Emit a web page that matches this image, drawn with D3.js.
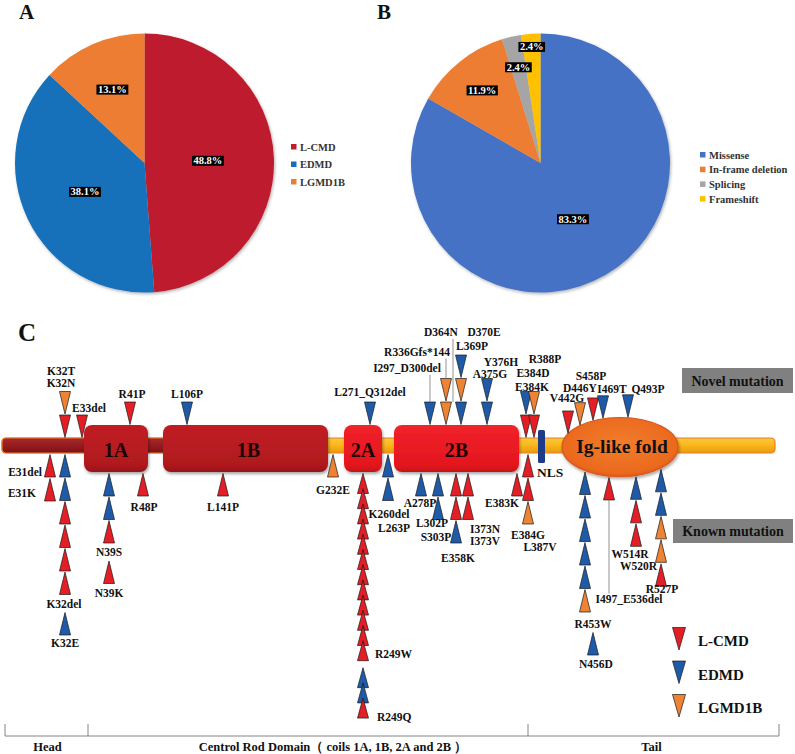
<!DOCTYPE html>
<html>
<head>
<meta charset="utf-8">
<script src="https://cdn.jsdelivr.net/npm/d3@7"></script>
<style>
  body { margin: 0; background: #fff; }
  svg { display: block; }
  text { font-family: "Liberation Serif", "Times New Roman", serif; font-weight: bold; }
</style>
</head>
<body>
<svg id="chart" width="795" height="754"></svg>
<script>
// ---------- data ----------
const pieACategories = ["L-CMD", "EDMD", "LGMD1B"];
const pieAValues = [48.8, 38.1, 13.1];

const pieBCategories = ["Missense", "In-frame deletion", "Splicing", "Frameshift"];
const pieBValues = [83.3, 11.9, 2.4, 2.4];

const diseaseNames = ["L-CMD", "EDMD", "LGMD1B"];
const diseaseCode = { L: "L-CMD", E: "EDMD", G: "LGMD1B" };

const domainNames = ["1A", "1B", "2A", "2B"];
const domainStart = [34, 81, 243, 281];
const domainEnd = [70, 218, 270, 383];
const nlsRange = [417, 422];
const igFoldRange = [428, 549];
const proteinLength = 664;

const regionNames = ["Head", "Centrol Rod Domain（ coils 1A, 1B, 2A and 2B ）", "Tail"];
const regionStart = [1, 34, 384];
const regionEnd = [33, 383, 664];

// novel mutations (above the protein); cases listed from the protein outwards
const novelResidue = [32, 33, 41, 106, 271, 297, 336, 369, 375, 384, 388, 442, 446, 458, 469, 493];
const novelCases = ["LG", "L", "L", "E", "E", "E", "GG", "EGE", "EE", "LE", "LG", "L", "G", "L", "E", "E"];
const novelLabels = [["K32T", "K32N"], ["E33del"], ["R41P"], ["L106P"], ["L271_Q312del"], ["I297_D300del"],
  ["R336Gfs*144"], ["D364N", "D370E", "L369P"], ["Y376H", "A375G"], [], ["R388P", "E384D", "E384K"],
  ["V442G"], ["D446Y"], ["S458P"], ["I469T"], ["Q493P"]];

// known mutations (below the protein)
const knownResidue = [31, 31, 32, 32, 39, 39, 48, 141, 232, 249, 249, 260, 278, 302, 358, 373, 383, 384, 453, 456, 497, 514, 520, 527];
const knownCases = ["L", "L", "EELLLL", "E", "EEL", "L", "L", "L", "G", "LLLLLLLLLLLL", "EEL", "EE", "E", "EE",
  "LLE", "LL", "L", "LLG", "EEEEEG", "E", "L", "ELL", "EEGG", "L"];
const knownLabels = [["E31del"], ["E31K"], ["K32del"], ["K32E"], ["N39S"], ["N39K"], ["R48P"], ["L141P"], ["G232E"],
  ["R249W"], ["R249Q"], ["K260del", "L263P"], ["A278P"], ["L302P", "S303P"], ["E358K"], ["I373N", "I373V"],
  ["E383K"], ["E384G", "L387V"], ["R453W"], ["N456D"], ["I497_E536del"], ["W514R"], ["W520R"], ["R527P"]];

// ---------- setup ----------
const svg = d3.select("#chart");
svg.append("rect").attr("width", 795).attr("height", 754).attr("fill", "#fff");
const defs = svg.append("defs");

const pieShadow = defs.append("filter").attr("id", "pieShadow")
  .attr("x", "-10%").attr("y", "-10%").attr("width", "125%").attr("height", "125%");
pieShadow.append("feDropShadow").attr("dx", 1).attr("dy", 1.5).attr("stdDeviation", 1.5)
  .attr("flood-color", "#000").attr("flood-opacity", 0.3);

const boxShadow = defs.append("filter").attr("id", "boxShadow")
  .attr("x", "-10%").attr("y", "-10%").attr("width", "125%").attr("height", "130%");
boxShadow.append("feDropShadow").attr("dx", 1).attr("dy", 2).attr("stdDeviation", 1.5)
  .attr("flood-color", "#000").attr("flood-opacity", 0.35);

function vGradient(id, stops) {
  const g = defs.append("linearGradient").attr("id", id)
    .attr("x1", 0).attr("y1", 0).attr("x2", 0).attr("y2", 1);
  stops.forEach(([o, c]) => g.append("stop").attr("offset", o).attr("stop-color", c));
}
vGradient("rodYellow", [[0, "#f7c846"], [0.45, "#fbb81a"], [1, "#e69a12"]]);
vGradient("rodRed", [[0, "#a8282c"], [0.5, "#951c20"], [1, "#7b1216"]]);
vGradient("coil1", [[0, "#c01f24"], [0.85, "#b0191e"], [1, "#931318"]]);
vGradient("coil2", [[0, "#f0222a"], [0.85, "#e4161e"], [1, "#c31118"]]);
const rg = defs.append("radialGradient").attr("id", "igFill").attr("cx", "50%").attr("cy", "45%").attr("r", "60%");
rg.append("stop").attr("offset", 0).attr("stop-color", "#f27d2c");
rg.append("stop").attr("offset", 0.8).attr("stop-color", "#eb6a1e");
rg.append("stop").attr("offset", 1).attr("stop-color", "#d9561a");

// ---------- panels A and B ----------
function drawPie(cx, cy, r, cats, vals, colors, labelR, legendX, legendY, legendStep) {
  const color = d3.scaleOrdinal().domain(cats).range(colors);
  const arcs = d3.pie().sort(null).value(d => d)(vals);
  const arc = d3.arc().innerRadius(0).outerRadius(r);
  const g = svg.append("g").attr("transform", `translate(${cx},${cy})`);
  g.append("g").attr("filter", "url(#pieShadow)")
    .selectAll("path").data(arcs).join("path")
    .attr("d", arc)
    .attr("fill", (d, i) => color(cats[i]));

  arcs.forEach((d, i) => {
    const a = (d.startAngle + d.endAngle) / 2;
    const rr = r * labelR[i];
    const lg = g.append("g");
    const t = lg.append("text")
      .attr("x", rr * Math.sin(a)).attr("y", -rr * Math.cos(a))
      .attr("dy", "0.35em").attr("text-anchor", "middle")
      .attr("font-size", 10.5).attr("fill", "#fff")
      .text(vals[i].toFixed(1) + "%");
    const bb = t.node().getBBox();
    lg.insert("rect", "text")
      .attr("x", bb.x - 1.5).attr("y", bb.y + 0.5)
      .attr("width", bb.width + 3).attr("height", bb.height - 1)
      .attr("fill", "#000");
  });

  const leg = svg.append("g");
  cats.forEach((c, i) => {
    const y = legendY + i * legendStep;
    leg.append("rect").attr("x", legendX).attr("y", y - 3).attr("width", 5.5).attr("height", 5.5)
      .attr("fill", color(c));
    leg.append("text").attr("x", legendX + 9).attr("y", y + 3.5)
      .attr("font-size", 10.5).attr("fill", "#333").text(c);
  });
}

drawPie(144.5, 163, 129.5, pieACategories, pieAValues, ["#be1e2d", "#1570ba", "#ed7d31"],
  [0.49, 0.51, 0.62], 291, 147, 17.5);
drawPie(540.5, 163, 129.5, pieBCategories, pieBValues, ["#4472c4", "#ed7d31", "#a5a5a5", "#ffc000"],
  [0.5, 0.72, 0.76, 0.9], 700, 155, 14.7);

svg.append("text").attr("x", 19).attr("y", 19).attr("font-size", 21).attr("fill", "#111").text("A");
svg.append("text").attr("x", 377).attr("y", 19).attr("font-size", 21).attr("fill", "#111").text("B");
svg.append("text").attr("x", 18).attr("y", 341).attr("font-size", 25).attr("fill", "#111").text("C");

// ---------- panel C: protein schematic ----------
// schematic (not-to-scale) position scales: structure, novel track, known track
const xStruct = d3.scaleLinear()
  .domain([1, 34, 70, 81, 218, 243, 270, 281, 383, 384, 417, 422, 428, 549, 664])
  .range([2, 84, 148, 163, 328, 344, 382, 394, 519, 524, 538, 545, 562, 678, 775]);
const xNovel = d3.scaleLinear()
  .domain([1, 32, 33, 41, 106, 271, 297, 336, 369, 375, 384, 388, 442, 446, 458, 469, 493, 664])
  .range([5, 65, 82, 130, 187, 370, 430, 446, 461, 487, 526, 534, 568, 580, 593, 603, 628, 772]);
const xKnown = d3.scaleLinear()
  .domain([1, 31, 32, 39, 48, 141, 232, 249, 260, 278, 302, 358, 373, 383, 384, 453, 456, 497, 514, 520, 527, 664])
  .range([5, 50, 65, 109, 143, 223, 333, 363, 388, 421, 438, 456, 468, 517, 528, 585, 593, 609, 636, 661, 661, 772]);

const ROD_TOP = 438, ROD_BOTTOM = 453, BOX_TOP = 425, BOX_BOTTOM = 472;
const IG = {
  cx: (xStruct(igFoldRange[0]) + xStruct(igFoldRange[1])) / 2,
  rx: (xStruct(igFoldRange[1]) - xStruct(igFoldRange[0])) / 2,
  cy: 447, ry: 29.5
};

const pc = svg.append("g");
// rod
pc.append("rect").attr("x", xStruct(1)).attr("y", ROD_TOP)
  .attr("width", xStruct(proteinLength) - xStruct(1)).attr("height", ROD_BOTTOM - ROD_TOP)
  .attr("rx", 4).attr("fill", "url(#rodYellow)").attr("stroke", "#ef7d22").attr("stroke-width", 1.2);
pc.append("rect").attr("x", xStruct(1)).attr("y", ROD_TOP)
  .attr("width", xStruct(domainStart[1] + 10) - xStruct(1)).attr("height", ROD_BOTTOM - ROD_TOP)
  .attr("rx", 4).attr("fill", "url(#rodRed)").attr("stroke", "#ef7d22").attr("stroke-width", 1.2);

// coils
const coilFill = d3.scaleOrdinal().domain(domainNames).range(["url(#coil1)", "url(#coil1)", "url(#coil2)", "url(#coil2)"]);
domainNames.forEach((name, i) => {
  const x0 = xStruct(domainStart[i]), x1 = xStruct(domainEnd[i]);
  pc.append("rect").attr("x", x0).attr("y", BOX_TOP).attr("width", x1 - x0).attr("height", BOX_BOTTOM - BOX_TOP)
    .attr("rx", 8).attr("fill", coilFill(name)).attr("filter", "url(#boxShadow)");
  pc.append("text").attr("x", (x0 + x1) / 2 + (i === 1 ? 3 : 0)).attr("y", 457)
    .attr("text-anchor", "middle").attr("font-size", 20).attr("fill", "#1a0505").text(name);
});

// NLS
pc.append("rect").attr("x", xStruct(nlsRange[0])).attr("y", 430)
  .attr("width", xStruct(nlsRange[1]) - xStruct(nlsRange[0])).attr("height", 33)
  .attr("rx", 1.5).attr("fill", "#1f3a88");
pc.append("text").attr("x", xStruct(nlsRange[0]) - 1).attr("y", 477)
  .attr("font-size", 13.5).attr("fill", "#111").text("NLS");

// Ig-like fold
pc.append("ellipse").attr("cx", IG.cx).attr("cy", IG.cy).attr("rx", IG.rx).attr("ry", IG.ry)
  .attr("fill", "url(#igFill)").attr("stroke", "#d9561a").attr("stroke-width", 1.2)
  .attr("filter", "url(#boxShadow)");
pc.append("text").attr("x", IG.cx + 2).attr("y", 453).attr("text-anchor", "middle")
  .attr("font-size", 19.5).attr("fill", "#111").text("Ig-like fold");

// structure outline used to seat the triangles
function structEdge(x, side) {
  const ex = (x - IG.cx) / IG.rx;
  if (Math.abs(ex) < 1) return IG.cy + side * IG.ry * Math.sqrt(1 - ex * ex);
  for (let i = 0; i < domainNames.length; i++) {
    if (x >= xStruct(domainStart[i]) && x <= xStruct(domainEnd[i])) return side < 0 ? BOX_TOP : BOX_BOTTOM;
  }
  return side < 0 ? ROD_TOP : ROD_BOTTOM;
}

const triColor = d3.scaleOrdinal().domain(diseaseNames).range(["#e31e25", "#1f5aa8", "#ee8333"]);
function triPath(x, tip, dir, w, h) {
  // dir = -1: points down (tip at bottom), dir = +1: points up
  return `M${x},${tip}L${x - w / 2},${tip + dir * h}L${x + w / 2},${tip + dir * h}Z`;
}
const TRI_W = 11, TRI_H = 22.5, STEP = 23.5;
const LABEL_SIZE = 11.5;

// label placement: [dx, dy, anchor] relative to the column x and the stack end
const novelLabelPos = {
  "K32T": [-4, -17], "K32N": [-4, -5], "E33del": [7, -3], "R41P": [2, -4], "L106P": [0, -4],
  "L271_Q312del": [0, -6], "I297_D300del": [-23, -30], "R336Gfs*144": [-29, -23],
  "D364N": [-20, -19], "D370E": [23, -19], "L369P": [11, -5],
  "Y376H": [14, -13], "A375G": [3, -1],
  "R388P": [11, -29], "E384D": [-1, -15], "E384K": [-2, -1],
  "V442G": [-1, -9], "D446Y": [0, -11], "S458P": [-2, -18], "I469T": [9, -3], "Q493P": [20, -2]
};
const novelLeaders = { "I297_D300del": [0, 0], "R336Gfs*144": [0, 1], "D364N": [-8, 0] };

const knownLabelPos = {
  "E31del": [-8, -1.5, "end"], "E31K": [-14, -4.5, "end"], "K32del": [-1, 13], "K32E": [0, 12],
  "N39S": [0, 13], "N39K": [0, 13], "R48P": [1, 15], "L141P": [0, 15], "G232E": [0, 17],
  "R249W": [12, -2.5, "start"], "R249Q": [14, 2.5, "start"],
  "K260del": [1, 17], "L263P": [6, 31], "A278P": [-1, 10.5], "L302P": [-6, 7], "S303P": [-2, 21],
  "E358K": [2, 18.5], "I373N": [17, 13], "I373V": [17, 25], "E383K": [-15, 10.5],
  "E384G": [0, 14.5], "L387V": [12, 26.5], "R453W": [8, 15.5], "N456D": [3, 12.5],
  "I497_E536del": [20, 103.5], "W514R": [-6, 11.5], "W520R": [-4, 8, "end"], "R527P": [1, 7]
};
const knownGap = { "R249Q": 5.5 };
const compactStack = { 249: { step: 15.2, h: 20 } };

const gMut = svg.append("g");
const gLab = svg.append("g");

// novel mutations
novelResidue.forEach((res, i) => {
  const x = xNovel(res);
  const tip0 = structEdge(x, -1) - 0.5;
  const cases = novelCases[i].split("");
  cases.forEach((c, k) => {
    gMut.append("path").attr("d", triPath(x, tip0 - k * STEP, -1, TRI_W, TRI_H))
      .attr("fill", triColor(diseaseCode[c])).attr("stroke", "#1a1a1a").attr("stroke-width", 0.7);
  });
  const top = tip0 - (cases.length - 1) * STEP - TRI_H;
  novelLabels[i].forEach((lab, j) => {
    const p = novelLabelPos[lab] || [0, -4 - 12 * (novelLabels[i].length - 1 - j)];
    const ly = top + p[1];
    gLab.append("text").attr("x", x + p[0]).attr("y", ly).attr("text-anchor", p[2] || "middle")
      .attr("font-size", LABEL_SIZE).attr("fill", "#111").text(lab);
    if (novelLeaders[lab]) {
      const [ldx, lvl] = novelLeaders[lab];
      gLab.append("line").attr("x1", x + ldx).attr("x2", x + ldx)
        .attr("y1", ly + 3).attr("y2", tip0 - lvl * STEP - TRI_H)
        .attr("stroke", "#777").attr("stroke-width", 0.8);
    }
  });
});

// known mutations
let prevX = null, cursor = null;
knownResidue.forEach((res, i) => {
  const x = xKnown(res);
  const cfg = compactStack[res] || { step: STEP, h: TRI_H };
  const labs = knownLabels[i];
  let start;
  if (prevX !== null && Math.abs(x - prevX) < 9.5) start = cursor + (knownGap[labs[0]] || 0);
  else start = structEdge(x, 1) + 1.5;
  const cases = knownCases[i].split("");
  cases.forEach((c, k) => {
    gMut.append("path").attr("d", triPath(x, start + k * cfg.step, 1, TRI_W, cfg.h))
      .attr("fill", triColor(diseaseCode[c])).attr("stroke", "#1a1a1a").attr("stroke-width", 0.7);
  });
  const bottom = start + (cases.length - 1) * cfg.step + cfg.h;
  let below = false, lastBase = bottom;
  labs.forEach(lab => {
    const p = knownLabelPos[lab] || [0, 13];
    const anchor = p[2] || "middle";
    const ly = bottom + p[1];
    gLab.append("text").attr("x", x + p[0]).attr("y", ly).attr("text-anchor", anchor)
      .attr("font-size", LABEL_SIZE).attr("fill", "#111").text(lab);
    if (anchor === "middle") { below = true; lastBase = ly; }
    if (lab === "I497_E536del") {
      gLab.append("line").attr("x1", x).attr("x2", x).attr("y1", bottom).attr("y2", ly - 10)
        .attr("stroke", "#777").attr("stroke-width", 0.8);
    }
  });
  cursor = below ? lastBase + 5 : bottom + 1.5;
  prevX = x;
});

// novel / known tags
const tags = [["Novel mutation", 682, 368, 111, 25], ["Known mutation", 673, 519, 120, 24]];
tags.forEach(([t, x, y, w, h]) => {
  svg.append("rect").attr("x", x).attr("y", y).attr("width", w).attr("height", h).attr("fill", "#808080");
  svg.append("text").attr("x", x + w / 2).attr("y", y + h / 2 + 5).attr("text-anchor", "middle")
    .attr("font-size", 14).attr("fill", "#111").text(t);
});

// disease legend
diseaseNames.forEach((d, i) => {
  const tip = 650 + i * 33.5;
  svg.append("path").attr("d", triPath(679, tip, -1, 13, 22.5))
    .attr("fill", triColor(d)).attr("stroke", "#1a1a1a").attr("stroke-width", 0.7);
  svg.append("text").attr("x", 698).attr("y", tip - 4).attr("font-size", 15).attr("fill", "#111").text(d);
});

// region bracket
const bx = regionStart.map((s, i) => i === 0 ? xStruct(s) + 3 : xStruct(s) + 4);
bx.push(xStruct(proteinLength) + 4);
const br = svg.append("g").attr("stroke", "#666").attr("stroke-width", 0.8).attr("fill", "none");
br.append("line").attr("x1", bx[0]).attr("x2", bx[bx.length - 1]).attr("y1", 736).attr("y2", 736);
bx.forEach(x => br.append("line").attr("x1", x).attr("x2", x).attr("y1", 724).attr("y2", 736));
const regionDx = [1, 25, -2];
regionNames.forEach((n, i) => {
  svg.append("text").attr("x", (bx[i] + bx[i + 1]) / 2 + regionDx[i]).attr("y", 751)
    .attr("text-anchor", "middle").attr("font-size", 12.5).attr("fill", "#111").text(n);
});
</script>
</body>
</html>
